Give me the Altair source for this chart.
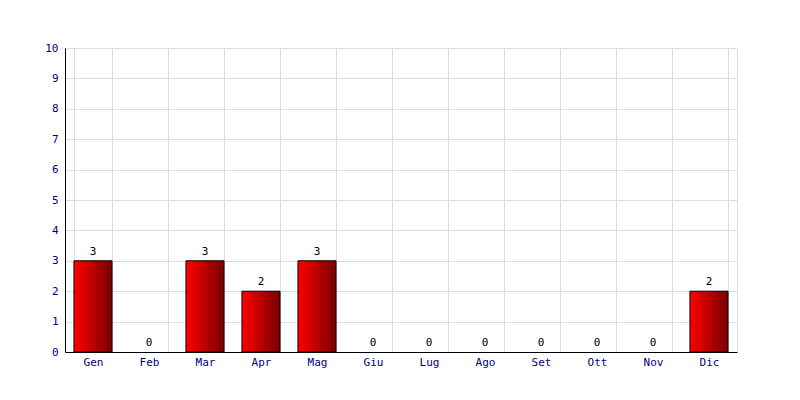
import altair as alt
import pandas as pd

months = ["Gen", "Feb", "Mar", "Apr", "Mag", "Giu", "Lug", "Ago", "Set", "Ott", "Nov", "Dic"]
values = [3, 0, 3, 2, 3, 0, 0, 0, 0, 0, 0, 2]

df = pd.DataFrame({"mese": months, "valore": values})

font = "DejaVu Sans Mono"

x_axis = alt.Axis(labelAngle=0, labelColor="#000080", labelFont=font, labelFontSize=11,
                  domainColor="#000000", grid=True, gridColor="#dddddd", tickBand="extent",
                  ticks=False, labelPadding=4, labelOverlap=False)
y_axis = alt.Axis(tickCount=10, tickMinStep=1, labelColor="#000080", labelFont=font, labelFontSize=11,
                  domainColor="#000000", gridColor="#dddddd", ticks=False, labelPadding=7,
                  labelOverlap=False, labelFlush=False)
x_scale = alt.Scale(paddingInner=0.32, paddingOuter=0.16)
y_scale = alt.Scale(domain=[0, 10], nice=False)

bars = alt.Chart(df).transform_filter("datum.valore > 0").mark_bar(
    color=alt.Gradient(gradient="linear", x1=0, x2=1, y1=0, y2=0,
                       stops=[alt.GradientStop(color="#ff0000", offset=0),
                              alt.GradientStop(color="#780000", offset=1)]),
    stroke="#000000", strokeWidth=1
).encode(
    x=alt.X("mese:N", sort=months, title=None, scale=x_scale, axis=x_axis),
    y=alt.Y("valore:Q", title=None, scale=y_scale, axis=y_axis),
)

labels = alt.Chart(df).mark_text(dy=-9, font=font, fontSize=11, color="#000000").encode(
    x=alt.X("mese:N", sort=months, title=None, scale=x_scale, axis=x_axis),
    y=alt.Y("valore:Q", title=None, scale=y_scale, axis=y_axis),
    text="valore:Q",
)

chart = (bars + labels).properties(
    width=672, height=304,
    autosize=alt.AutoSizeParams(type="none"),
    padding={"left": 57, "top": 40, "right": 55, "bottom": 40},
).configure_view(stroke=None).configure(background="#ffffff")

chart.save("out.html", embed_options={"renderer": "svg", "actions": False})
